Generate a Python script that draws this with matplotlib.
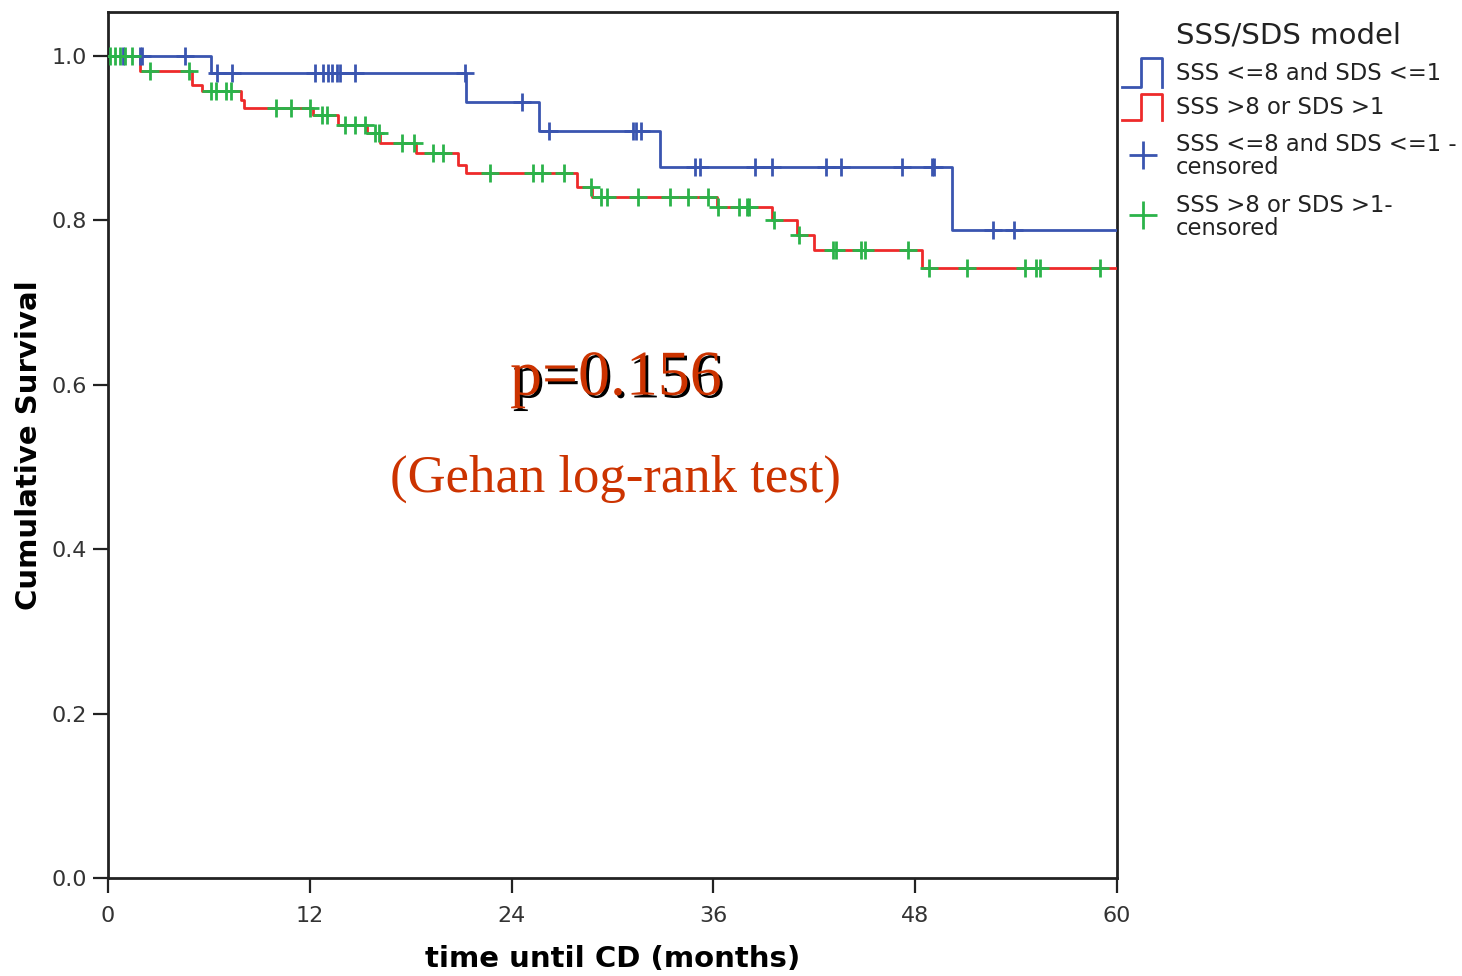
import numpy as np
import matplotlib.pyplot as plt
from matplotlib.lines import Line2D
import matplotlib.patheffects as pe

# Kaplan-Meier steps (months, cumulative survival)
blue_event_t = [6.1, 21.3, 25.6, 32.8, 50.2]
blue_surv = [0.979, 0.944, 0.909, 0.865, 0.788]
blue_censor_t = [0.9, 1.9, 2.0, 4.6, 6.5, 7.4, 12.3, 12.8, 13.1, 13.3, 13.6,
                 13.8, 14.7, 21.2, 24.6, 26.2, 31.2, 31.4, 31.7, 34.9, 35.2,
                 38.5, 39.5, 42.7, 43.6, 47.2, 49.0, 49.1, 52.6, 53.9]

red_event_t = [1.9, 5.0, 5.6, 7.9, 8.1, 12.2, 13.7, 15.4, 16.2, 18.3, 20.8,
               21.3, 27.9, 28.8, 36.2, 39.5, 41.0, 42.0, 48.4]
red_surv = [0.982, 0.965, 0.957, 0.947, 0.937, 0.928, 0.916, 0.906, 0.894,
            0.882, 0.867, 0.858, 0.841, 0.828, 0.816, 0.800, 0.782, 0.764, 0.742]
green_censor_t = [0.1, 0.4, 0.7, 1.0, 1.4, 2.5, 4.8, 6.1, 6.4, 7.0, 7.3, 10.0,
                  10.9, 12.0, 12.7, 13.0, 14.1, 14.7, 15.3, 15.9, 16.1, 17.5,
                  18.2, 19.3, 19.9, 22.7, 25.3, 25.8, 27.1, 28.7, 29.3, 29.7,
                  31.5, 33.4, 34.5, 35.7, 36.3, 37.5, 38.0, 38.1, 39.6, 41.1,
                  43.1, 43.3, 44.8, 45.0, 47.6, 48.8, 51.1, 54.5, 55.2, 55.4, 59.0]

x_ticks = [0, 12, 24, 36, 48, 60]
y_ticks = [0.0, 0.2, 0.4, 0.6, 0.8, 1.0]
legend_labels = ["SSS <=8 and SDS <=1", "SSS >8 or SDS >1",
                 "SSS <=8 and SDS <=1 -\ncensored", "SSS >8 or SDS >1-\ncensored"]

BLUE = "#3a55b0"
RED = "#ee2a2a"
GREEN = "#2bb34a"
TXT_RED = "#cc3300"
T_MAX = 60

W, H = 1462, 976


def surv_at(event_t, surv, t):
    levels = np.r_[1.0, surv]
    idx = np.searchsorted(event_t, t, side="right")
    return levels[idx]


def px(x, y):
    # pixel (from top-left) -> figure fraction
    return x / W, 1 - y / H


fig = plt.figure(figsize=(W / 100, H / 100), dpi=100)
ax = fig.add_axes([108 / W, 1 - 878 / H, (1117 - 108) / W, (878 - 12) / H])

for ev, sv, col in [(blue_event_t, blue_surv, BLUE), (red_event_t, red_surv, RED)]:
    xs = np.r_[0, ev, T_MAX]
    ys = np.r_[1.0, sv, sv[-1]]
    ax.step(xs, ys, where="post", color=col, lw=2, zorder=3)

ax.plot(blue_censor_t, surv_at(blue_event_t, blue_surv, np.array(blue_censor_t)),
        ls="none", marker="+", ms=13, mew=2, color=BLUE, zorder=4)
ax.plot(green_censor_t, surv_at(red_event_t, red_surv, np.array(green_censor_t)),
        ls="none", marker="+", ms=13, mew=2, color=GREEN, zorder=4)

ax.set_xlim(0, T_MAX)
ax.set_ylim(0, 1.0535)
ax.set_xticks(x_ticks)
ax.set_yticks(y_ticks)
ax.set_yticklabels([f"{v:.1f}" for v in y_ticks])
ax.tick_params(axis="both", direction="out", length=11, width=1.6,
               labelsize=16, color="#222222", labelcolor="#333333")
ax.tick_params(axis="x", pad=9)
ax.tick_params(axis="y", pad=4)
for s in ax.spines.values():
    s.set_linewidth(2)
    s.set_color("#222222")

ax.set_xlabel("time until CD (months)", fontsize=21, fontweight="bold", labelpad=14)
ax.set_ylabel("Cumulative Survival", fontsize=21, fontweight="bold", labelpad=6)

ax.text(30.2, 0.588, "p=0.156", family="Liberation Serif", fontsize=46,
        color=TXT_RED, ha="center", va="baseline",
        path_effects=[pe.withSimplePatchShadow(offset=(2, -2), shadow_rgbFace="black", alpha=1)])
ax.text(30.2, 0.470, "(Gehan log-rank test)", family="Liberation Serif", fontsize=38,
        color=TXT_RED, ha="center", va="baseline")

# legend drawn by hand to reproduce the step icons
fig.text(*px(1176, 35), "SSS/SDS model", fontsize=21, va="center", ha="left", color="#222222")
for (yl, yh), col in [((87, 58), BLUE), ((120, 94), RED)]:
    xs = [1122, 1141, 1141, 1162, 1162]
    ys = [yl, yl, yh, yh, yl]
    fx, fy = zip(*[px(a, b) for a, b in zip(xs, ys)])
    fig.add_artist(Line2D(fx, fy, color=col, lw=2, transform=fig.transFigure))
for yc, col in [(155, BLUE), (215, GREEN)]:
    fig.add_artist(Line2D([px(1143, yc)[0]], [px(1143, yc)[1]], ls="none", marker="+",
                          ms=20, mew=2, color=col, transform=fig.transFigure))
for yc, lab in zip([73, 107, 156, 217], legend_labels):
    fig.text(*px(1176, yc), lab, fontsize=16.3, va="center", ha="left",
             linespacing=1.0, color="#222222")

fig.savefig("out.png", dpi=100)
